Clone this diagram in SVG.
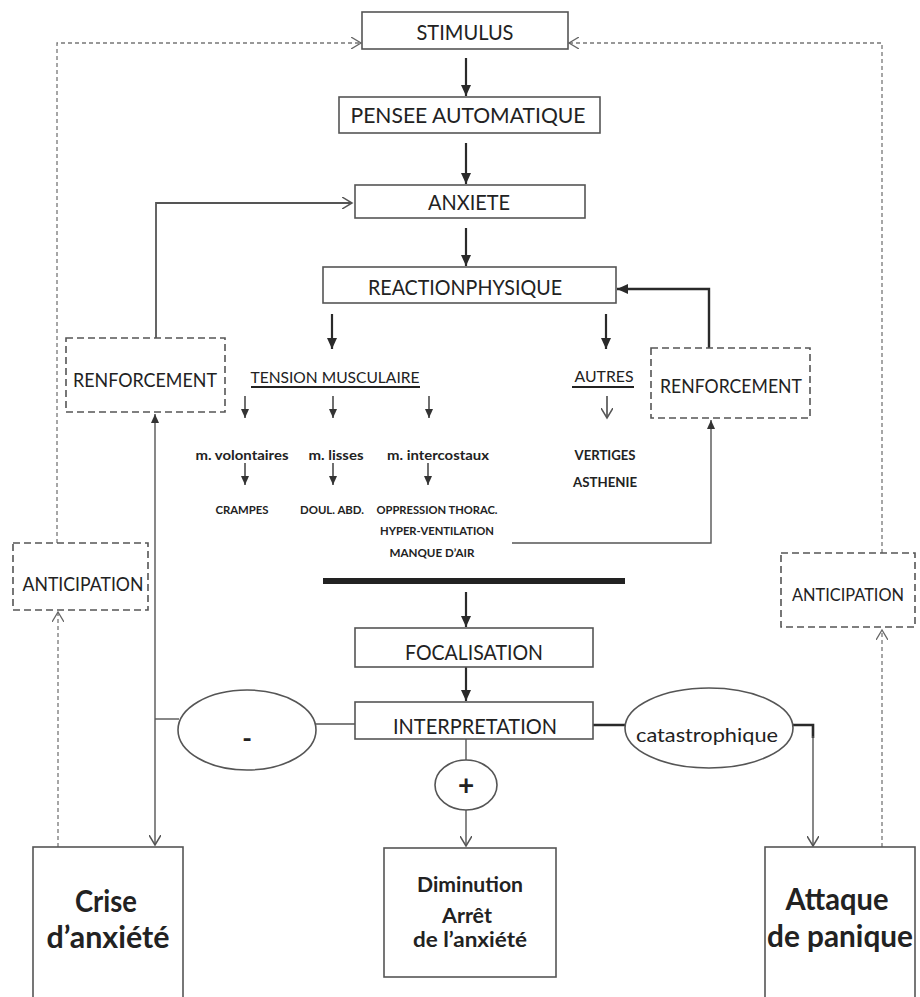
<svg xmlns="http://www.w3.org/2000/svg" width="920" height="997" viewBox="0 0 920 997">
<defs>
<style>
.box{fill:#fff;stroke:#555;stroke-width:1.6}
.dbox{fill:#fff;stroke:#555;stroke-width:1.6;stroke-dasharray:7 4}
.t{font-family:Lato,"Open Sans","Liberation Sans",sans-serif;fill:#222;text-anchor:middle}
.b{font-weight:bold}
.main{stroke:#2a2a2a;stroke-width:2.2;fill:none}
.small{stroke:#333;stroke-width:1.4;fill:none}
.thin{stroke:#555;stroke-width:1.4;fill:none}
.dot{stroke:#777;stroke-width:1.3;fill:none;stroke-dasharray:4 3}
.ul{stroke:#222;stroke-width:2}
</style>
<marker id="af" markerUnits="userSpaceOnUse" markerWidth="12" markerHeight="10" refX="11" refY="5" orient="auto"><path d="M0,0 L11,5 L0,10 z" fill="#2a2a2a"/></marker>
<marker id="afs" markerUnits="userSpaceOnUse" markerWidth="10" markerHeight="8" refX="9" refY="4" orient="auto"><path d="M0,0 L9,4 L0,8 z" fill="#333"/></marker>
<marker id="ao" markerUnits="userSpaceOnUse" markerWidth="12" markerHeight="12" refX="10" refY="6" orient="auto"><path d="M0,0 L10,6 L0,12" fill="none" stroke="#555" stroke-width="1.5"/></marker>
<marker id="aod" markerUnits="userSpaceOnUse" markerWidth="12" markerHeight="12" refX="10" refY="6" orient="auto"><path d="M0,0 L10,6 L0,12" fill="none" stroke="#666" stroke-width="1.3"/></marker>
</defs>
<rect width="920" height="997" fill="#fff"/>

<g id="connectors">
<polyline class="dot" points="58,847 58,612" marker-end="url(#aod)"/>
<polyline class="dot" points="57,543 57,43 361,43" marker-end="url(#aod)"/>
<polyline class="dot" points="882,847 882,630" marker-end="url(#aod)"/>
<polyline class="dot" points="882,553 882,43 569,43" marker-end="url(#aod)"/>
<line class="main" x1="466" y1="58" x2="466" y2="96" marker-end="url(#af)"/>
<line class="main" x1="466" y1="143" x2="466" y2="184" marker-end="url(#af)"/>
<line class="main" x1="466" y1="228" x2="466" y2="266" marker-end="url(#af)"/>
<line class="main" x1="332" y1="314" x2="332" y2="349" marker-end="url(#af)"/>
<line class="main" x1="606" y1="314" x2="606" y2="349" marker-end="url(#af)"/>
<line class="main" x1="466" y1="592" x2="466" y2="627" marker-end="url(#af)"/>
<line class="main" x1="466" y1="667" x2="466" y2="701" marker-end="url(#af)"/>
<polyline class="thin" points="156,338 156,203 352,203" marker-end="url(#ao)" style="stroke-width:1.8"/>
<polyline class="main" points="709,348 709,289 617,289" marker-end="url(#af)" style="stroke-width:2.4"/>
<line class="small" x1="245" y1="396" x2="245" y2="418" marker-end="url(#afs)"/>
<line class="small" x1="333" y1="396" x2="333" y2="418" marker-end="url(#afs)"/>
<line class="small" x1="429" y1="396" x2="429" y2="418" marker-end="url(#afs)"/>
<line class="small" x1="607" y1="396" x2="607" y2="418" marker-end="url(#ao)"/>
<line class="small" x1="245" y1="463" x2="245" y2="485" marker-end="url(#afs)"/>
<line class="small" x1="333" y1="463" x2="333" y2="485" marker-end="url(#afs)"/>
<line class="small" x1="428" y1="463" x2="428" y2="485" marker-end="url(#afs)"/>
<polyline class="thin" points="512,543 711,543 711,420" marker-end="url(#afs)"/>
<rect x="323" y="578" width="302" height="6" fill="#222"/>
<line class="thin" x1="155" y1="560" x2="155" y2="414" marker-end="url(#afs)"/>
<line class="thin" x1="155" y1="560" x2="155" y2="845" marker-end="url(#ao)"/>
<line class="thin" x1="155" y1="719" x2="179" y2="719"/>
<line class="thin" x1="315" y1="724" x2="355" y2="724"/>
<line class="thin" x1="466" y1="739" x2="466" y2="760"/>
<line class="thin" x1="466" y1="810" x2="466" y2="846" marker-end="url(#ao)"/>
<line class="main" x1="593" y1="725" x2="626" y2="725" style="stroke-width:2.6"/>
<polyline class="main" points="792,725 813,725 813,738" style="stroke-width:2.6"/>
<line class="thin" x1="813" y1="736" x2="813" y2="846" marker-end="url(#ao)"/>
</g>

<g id="stimulus"><rect class="box" x="362" y="12" width="206" height="37"/><text class="t" x="465" y="40" font-size="21" textLength="97" lengthAdjust="spacingAndGlyphs">STIMULUS</text></g>
<g id="pensee"><rect class="box" x="339" y="97" width="261" height="36"/><text class="t" x="468" y="123" font-size="21" textLength="235" lengthAdjust="spacingAndGlyphs">PENSEE AUTOMATIQUE</text></g>
<g id="anxiete"><rect class="box" x="355" y="185" width="230" height="33"/><text class="t" x="469" y="210" font-size="21" textLength="82" lengthAdjust="spacingAndGlyphs">ANXIETE</text></g>
<g id="reaction"><rect class="box" x="323" y="267" width="293" height="36"/><text class="t" x="465" y="295" font-size="21" textLength="194" lengthAdjust="spacingAndGlyphs">REACTIONPHYSIQUE</text></g>
<g id="renforcement-left"><rect class="dbox" x="66" y="338" width="159" height="74"/><text class="t" x="145" y="387" font-size="20" textLength="144" lengthAdjust="spacingAndGlyphs">RENFORCEMENT</text></g>
<g id="renforcement-right"><rect class="dbox" x="651" y="348" width="159" height="70"/><text class="t" x="731" y="393" font-size="20" textLength="142" lengthAdjust="spacingAndGlyphs">RENFORCEMENT</text></g>
<g id="tension"><text class="t" x="335" y="383" font-size="16" textLength="169" lengthAdjust="spacingAndGlyphs">TENSION MUSCULAIRE</text><line class="ul" x1="251" y1="387" x2="420" y2="387"/></g>
<g id="autres"><text class="t" x="604" y="382" font-size="16" textLength="59" lengthAdjust="spacingAndGlyphs">AUTRES</text><line class="ul" x1="572" y1="387" x2="634" y2="387"/></g>
<g id="volontaires"><text class="t b" x="242" y="460" font-size="14" textLength="93" lengthAdjust="spacingAndGlyphs">m. volontaires</text></g>
<g id="lisses"><text class="t b" x="336" y="460" font-size="14" textLength="55" lengthAdjust="spacingAndGlyphs">m. lisses</text></g>
<g id="intercostaux"><text class="t b" x="438" y="460" font-size="14" textLength="102" lengthAdjust="spacingAndGlyphs">m. intercostaux</text></g>
<g id="vertiges"><text class="t b" x="605" y="460" font-size="13" textLength="61" lengthAdjust="spacingAndGlyphs">VERTIGES</text><text class="t b" x="605" y="487" font-size="13" textLength="64" lengthAdjust="spacingAndGlyphs">ASTHENIE</text></g>
<g id="crampes"><text class="t b" x="242" y="514" font-size="11" textLength="53" lengthAdjust="spacingAndGlyphs">CRAMPES</text></g>
<g id="doul"><text class="t b" x="332" y="514" font-size="11" textLength="64" lengthAdjust="spacingAndGlyphs">DOUL. ABD.</text></g>
<g id="oppression"><text class="t b" x="437" y="514" font-size="11" textLength="121" lengthAdjust="spacingAndGlyphs">OPPRESSION THORAC.</text><text class="t b" x="437" y="535" font-size="11" textLength="114" lengthAdjust="spacingAndGlyphs">HYPER-VENTILATION</text><text class="t b" x="432" y="557" font-size="11" textLength="85" lengthAdjust="spacingAndGlyphs">MANQUE D’AIR</text></g>
<g id="anticipation-left"><rect class="dbox" x="13" y="543" width="135" height="67"/><text class="t" x="83" y="591" font-size="20" textLength="121" lengthAdjust="spacingAndGlyphs">ANTICIPATION</text></g>
<g id="anticipation-right"><rect class="dbox" x="781" y="553" width="134" height="74"/><text class="t" x="848" y="601" font-size="16.5" textLength="112" lengthAdjust="spacingAndGlyphs">ANTICIPATION</text></g>
<g id="focalisation"><rect class="box" x="355" y="628" width="238" height="39"/><text class="t" x="474" y="660" font-size="22" textLength="138" lengthAdjust="spacingAndGlyphs">FOCALISATION</text></g>
<g id="interpretation"><rect class="box" x="355" y="702" width="238" height="37"/><text class="t" x="475" y="734" font-size="22" textLength="164" lengthAdjust="spacingAndGlyphs">INTERPRETATION</text></g>
<g id="moins"><ellipse class="box" cx="247" cy="730" rx="69" ry="40"/><text class="t b" x="247" y="748" font-size="26">-</text></g>
<g id="catastrophique"><ellipse class="box" cx="709" cy="728" rx="84" ry="40"/><text class="t" x="707" y="742" font-size="20" textLength="142" lengthAdjust="spacingAndGlyphs">catastrophique</text></g>
<g id="plus"><ellipse class="box" cx="466" cy="785" rx="31" ry="25"/><text class="t b" x="466" y="795" font-size="28">+</text></g>
<g id="crise"><rect class="box" x="33" y="847" width="150" height="170"/><text class="t b" x="106" y="912" font-size="31" textLength="62" lengthAdjust="spacingAndGlyphs">Crise</text><text class="t b" x="108" y="948" font-size="31" textLength="123" lengthAdjust="spacingAndGlyphs">d’anxiété</text></g>
<g id="diminution"><rect class="box" x="384" y="848" width="172" height="129"/><text class="t b" x="470" y="892" font-size="21" textLength="106" lengthAdjust="spacingAndGlyphs">Diminution</text><text class="t b" x="467" y="923" font-size="21" textLength="50" lengthAdjust="spacingAndGlyphs">Arrêt</text><text class="t b" x="470" y="947" font-size="21" textLength="114" lengthAdjust="spacingAndGlyphs">de l’anxiété</text></g>
<g id="attaque"><rect class="box" x="765" y="847" width="150" height="170"/><text class="t b" x="837" y="910" font-size="31" textLength="103" lengthAdjust="spacingAndGlyphs">Attaque</text><text class="t b" x="840" y="947" font-size="31" textLength="146" lengthAdjust="spacingAndGlyphs">de panique</text></g>
</svg>
